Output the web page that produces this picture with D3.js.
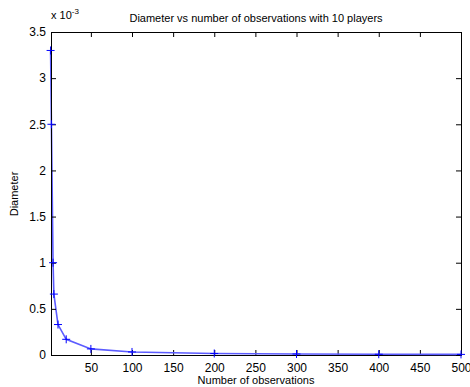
<!DOCTYPE html>
<html>
<head>
<meta charset="utf-8">
<script src="https://cdn.jsdelivr.net/npm/d3@7"></script>
<style>
  body { margin: 0; background: #fff; }
  text { font-family: "Liberation Sans", Arial, sans-serif; }
</style>
</head>
<body>
<div id="wrapper"></div>
<script>
// observations vs diameter (units of 1e-3)
const observations = [1, 2, 4, 5, 10, 20, 50, 100, 200, 300, 400, 500];
const diameter = [3.3, 2.5, 1.0, 0.66, 0.33, 0.17, 0.066, 0.033, 0.0165, 0.011, 0.008, 0.0066];
const xTicks = [50, 100, 150, 200, 250, 300, 350, 400, 450, 500];
const yTicks = [0, 0.5, 1, 1.5, 2, 2.5, 3, 3.5];

const width = 470, height = 387;
const margin = { left: 51, right: 9, top: 32, bottom: 32 };

const svg = d3.select("#wrapper").append("svg")
    .attr("width", width)
    .attr("height", height);

const x = d3.scaleLinear().domain([1.5, 500]).range([margin.left, width - margin.right]);
const y = d3.scaleLinear().domain([0, 3.5]).range([height - margin.bottom, margin.top]);

const fmt = d => d3.format("~g")(d);

// axes, ticks pointing inward
const tick = 5;
svg.append("g")
  .attr("transform", `translate(0,${y(0)})`)
  .call(d3.axisBottom(x).tickValues(xTicks).tickSize(-tick).tickPadding(8).tickFormat(fmt));
svg.append("g")
  .attr("transform", `translate(0,${y(3.5)})`)
  .call(d3.axisTop(x).tickValues(xTicks).tickSize(-tick).tickFormat(""));

// line (drawn before the left axis so the axis covers it)
const line = d3.line().x((d, i) => x(observations[i])).y(d => y(d));
svg.append("path")
  .datum(diameter)
  .attr("d", line)
  .attr("fill", "none")
  .attr("stroke", "#5c5cff")
  .attr("stroke-width", 1.6);

svg.append("g")
  .attr("transform", `translate(${x.range()[0]},0)`)
  .call(d3.axisLeft(y).tickValues(yTicks).tickSize(-tick).tickPadding(5).tickFormat(fmt));
svg.append("g")
  .attr("transform", `translate(${x.range()[1]},0)`)
  .call(d3.axisRight(y).tickValues(yTicks).tickSize(-tick).tickFormat(""));

svg.selectAll(".domain").attr("stroke", "#000");
svg.selectAll(".tick line").attr("stroke", "#000");
svg.selectAll(".tick text").attr("font-size", 12).attr("fill", "#000")
  .attr("font-family", "Liberation Sans, Arial, sans-serif");

// + markers
const m = 4;
svg.append("g").selectAll("path")
  .data(diameter)
  .enter()
  .append("path")
  .attr("d", (d, i) => {
    const px = x(observations[i]), py = y(d);
    return `M${px - m},${py}H${px + m}M${px},${py - m}V${py + m}`;
  })
  .attr("stroke", "#0000ff")
  .attr("stroke-width", 1);

// exponent label
const ex = svg.append("text")
  .attr("x", 51)
  .attr("y", 19)
  .attr("font-size", 11)
  .text("x 10");
ex.append("tspan")
  .attr("dy", -5)
  .attr("font-size", 8)
  .text("-3");

// title
svg.append("text")
  .attr("x", 256)
  .attr("y", 22)
  .attr("text-anchor", "middle")
  .attr("font-size", 11)
  .text("Diameter vs number of observations with 10 players");

// axis labels
svg.append("text")
  .attr("x", 256)
  .attr("y", 384)
  .attr("text-anchor", "middle")
  .attr("font-size", 11)
  .text("Number of observations");

svg.append("text")
  .attr("transform", "translate(18,194) rotate(-90)")
  .attr("text-anchor", "middle")
  .attr("font-size", 11)
  .text("Diameter");
</script>
</body>
</html>
